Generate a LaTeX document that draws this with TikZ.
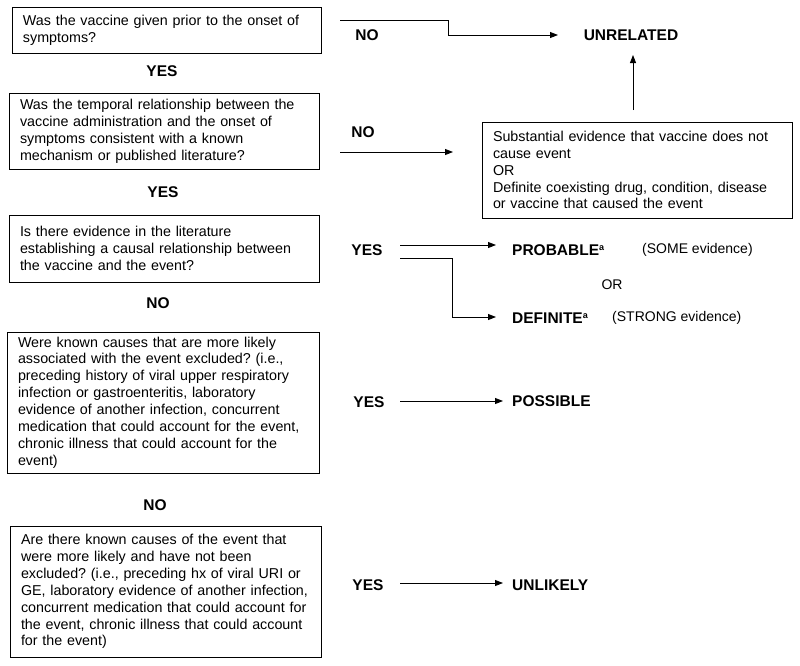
\documentclass[tikz,border=0pt]{standalone}
\usepackage{fontspec}
\setmainfont{Liberation Sans}
\usetikzlibrary{arrows.meta}
\tikzset{
  qbox/.style={draw, line width=0.9pt, align=left, inner xsep=11pt, inner ysep=0pt,
    font=\fontsize{14.3}{16.9}\selectfont\frenchspacing, anchor=center},
  lbl/.style={font=\fontsize{15.5}{18}\selectfont\bfseries, inner sep=0pt},
  note/.style={font=\fontsize{14}{17}\selectfont, inner sep=0pt},
  conn/.style={line width=0.8pt},
  arr/.style={line width=0.9pt, -{Triangle[length=8pt,width=6pt]}},
}
\begin{document}
\begin{tikzpicture}[x=1pt,y=-1pt]
\useasboundingbox (0,0) rectangle (800,665);
% question boxes
\node[qbox, minimum width=309pt, minimum height=46pt, text width=287pt] (q1) at (166.5,30)
  {Was the vaccine given prior to the onset of\\symptoms?};
\node[qbox, minimum width=310pt, minimum height=76pt, text width=288pt] (q2) at (164,131)
  {Was the temporal relationship between the\\vaccine administration and the onset of\\symptoms consistent with a known\\mechanism or published literature?};
\node[qbox, minimum width=310pt, minimum height=67pt, text width=288pt] (q3) at (164,248.5)
  {Is there evidence in the literature\\establishing a causal relationship between\\the vaccine and the event?};
\node[qbox, minimum width=312pt, minimum height=141pt, text width=290pt] (q4) at (163,402.5)
  {Were known causes that are more likely\\associated with the event excluded? (i.e.,\\preceding history of viral upper respiratory\\infection or gastroenteritis, laboratory\\evidence of another infection, concurrent\\medication that could account for the event,\\chronic illness that could account for the\\event)};
\node[qbox, minimum width=311pt, minimum height=131pt, text width=289pt] (q5) at (165.5,591.5)
  {Are there known causes of the event that\\were more likely and have not been\\excluded? (i.e., preceding hx of viral URI or\\GE, laboratory evidence of another infection,\\concurrent medication that could account for\\the event, chronic illness that could account\\for the event)};
\node[qbox, minimum width=310pt, minimum height=96pt, text width=288pt] (alt) at (637,170)
  {Substantial evidence that vaccine does not\\cause event\\OR\\Definite coexisting drug, condition, disease\\or vaccine that caused the event};
% down labels
\node[lbl] (y1) at (162,71) {YES};
\node[lbl] (y2) at (163,192) {YES};
\node[lbl] (n3) at (158,303) {NO};
\node[lbl] (n4) at (155,505) {NO};
% side labels
\node[lbl] (n1) at (367,35) {NO};
\node[lbl] (n2) at (363,132) {NO};
\node[lbl] (y3) at (367,250) {YES};
\node[lbl] (y4) at (369,402) {YES};
\node[lbl] (y5) at (368,585) {YES};
% outcomes
\node[lbl] (unrel) at (631,35) {UNRELATED};
\node[lbl, anchor=west] (prob) at (512,250) {PROBABLE\textsuperscript{\fontsize{9}{9}\selectfont a}};
\node[note, anchor=west] (some) at (642,250) {(SOME evidence)};
\node[note] (or) at (612,285) {OR};
\node[lbl, anchor=west] (defn) at (512,318) {DEFINITE\textsuperscript{\fontsize{9}{9}\selectfont a}};
\node[note, anchor=west] (strong) at (612,318) {(STRONG evidence)};
\node[lbl, anchor=west] (poss) at (512,401) {POSSIBLE};
\node[lbl, anchor=west] (unlk) at (512,585) {UNLIKELY};
% connector free ends
\coordinate (s1) at (340,20);
\coordinate (s2) at (340,152);
\coordinate (s3a) at (400,245);
\coordinate (s3b) at (400,258);
\coordinate (s4) at (400,401);
\coordinate (s5) at (400,583);
% connectors
\draw[arr] (s1) -- (448,20) -- (448,35) -- (558,35);
\draw[arr] (s2) -- (453,152);
\draw[arr] (633,110) -- (633,55);
\draw[arr] (s3a) -- (496,245);
\draw[arr] (s3b) -- (452,258) -- (452,317) -- (496,317);
\draw[arr] (s4) -- (503,401);
\draw[arr] (s5) -- (503,583);
\end{tikzpicture}
\end{document}
